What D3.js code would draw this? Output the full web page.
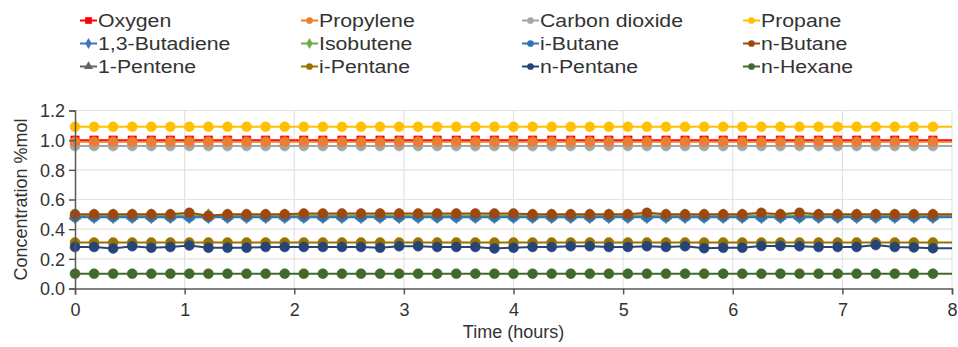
<!DOCTYPE html>
<html>
<head>
<meta charset="utf-8">
<script src="https://cdn.jsdelivr.net/npm/d3@7"></script>
<style>
  body { margin: 0; background: #fff; }
  svg { display: block; font-family: "Liberation Sans", Arial, sans-serif; }
</style>
</head>
<body>
<svg id="chart" width="958" height="347"></svg>
<script>
// sample times (hours)
const times = [0, 0.174, 0.348, 0.522, 0.696, 0.870, 1.043, 1.217, 1.391, 1.565, 1.739, 1.913,
  2.087, 2.261, 2.435, 2.609, 2.783, 2.957, 3.130, 3.304, 3.478, 3.652, 3.826, 4.000,
  4.174, 4.348, 4.522, 4.696, 4.870, 5.043, 5.217, 5.391, 5.565, 5.739, 5.913, 6.087,
  6.261, 6.435, 6.609, 6.783, 6.957, 7.130, 7.304, 7.478, 7.652, 7.826, 8.000];

const oxygen = [1.00, 1.00, 1.00, 1.00, 1.00, 1.00, 1.00, 1.00, 1.00, 1.00, 1.00, 1.00,
  1.00, 1.00, 1.00, 1.00, 1.00, 1.00, 1.00, 1.00, 1.00, 1.00, 1.00, 1.00,
  1.00, 1.00, 1.00, 1.00, 1.00, 1.00, 1.00, 1.00, 1.00, 1.00, 1.00, 1.00,
  1.00, 1.00, 1.00, 1.00, 1.00, 1.00, 1.00, 1.00, 1.00, 1.00, 1.00];
const propylene = [0.99, 0.99, 0.99, 0.99, 0.99, 0.99, 0.99, 0.99, 0.99, 0.99, 0.99, 0.99,
  0.99, 0.99, 0.99, 0.99, 0.99, 0.99, 0.99, 0.99, 0.99, 0.99, 0.99, 0.99,
  0.99, 0.99, 0.99, 0.99, 0.99, 0.99, 0.99, 0.99, 0.99, 0.99, 0.99, 0.99,
  0.99, 0.99, 0.99, 0.99, 0.99, 0.99, 0.99, 0.99, 0.99, 0.99, 0.99];
const carbonDioxide = [0.96, 0.96, 0.96, 0.96, 0.96, 0.96, 0.96, 0.96, 0.96, 0.96, 0.96, 0.96,
  0.96, 0.96, 0.96, 0.96, 0.96, 0.96, 0.96, 0.96, 0.96, 0.96, 0.96, 0.96,
  0.96, 0.96, 0.96, 0.96, 0.96, 0.96, 0.96, 0.96, 0.96, 0.96, 0.96, 0.96,
  0.96, 0.96, 0.96, 0.96, 0.96, 0.96, 0.96, 0.96, 0.96, 0.96, 0.96];
const propane = [1.09, 1.09, 1.09, 1.09, 1.09, 1.09, 1.09, 1.09, 1.09, 1.09, 1.09, 1.09,
  1.09, 1.09, 1.09, 1.09, 1.09, 1.09, 1.09, 1.09, 1.09, 1.09, 1.09, 1.09,
  1.09, 1.09, 1.09, 1.09, 1.09, 1.09, 1.09, 1.09, 1.09, 1.09, 1.09, 1.09,
  1.09, 1.09, 1.09, 1.09, 1.09, 1.09, 1.09, 1.09, 1.09, 1.09, 1.09];
const butadiene = [0.485, 0.485, 0.485, 0.485, 0.485, 0.485, 0.485, 0.485, 0.485, 0.485, 0.485, 0.485,
  0.485, 0.485, 0.485, 0.485, 0.485, 0.485, 0.485, 0.485, 0.485, 0.485, 0.485, 0.485,
  0.485, 0.485, 0.485, 0.485, 0.485, 0.485, 0.485, 0.485, 0.485, 0.485, 0.485, 0.485,
  0.485, 0.485, 0.485, 0.485, 0.485, 0.485, 0.485, 0.485, 0.485, 0.485, 0.485];
const isobutene = [0.49, 0.49, 0.49, 0.49, 0.49, 0.49, 0.49, 0.49, 0.49, 0.49, 0.49, 0.49,
  0.49, 0.49, 0.49, 0.49, 0.49, 0.49, 0.49, 0.49, 0.49, 0.49, 0.49, 0.49,
  0.49, 0.49, 0.49, 0.49, 0.49, 0.49, 0.49, 0.49, 0.49, 0.49, 0.49, 0.49,
  0.49, 0.49, 0.49, 0.49, 0.49, 0.49, 0.49, 0.49, 0.49, 0.49, 0.49];
const iButane = [0.48, 0.48, 0.48, 0.48, 0.48, 0.48, 0.48, 0.48, 0.48, 0.48, 0.48, 0.48,
  0.48, 0.48, 0.48, 0.48, 0.48, 0.48, 0.48, 0.48, 0.48, 0.48, 0.48, 0.48,
  0.48, 0.48, 0.48, 0.48, 0.48, 0.48, 0.48, 0.48, 0.48, 0.48, 0.48, 0.48,
  0.48, 0.48, 0.48, 0.48, 0.48, 0.48, 0.48, 0.48, 0.48, 0.48, 0.48];
const nButane = [0.50, 0.50, 0.50, 0.50, 0.50, 0.50, 0.51, 0.49, 0.50, 0.50, 0.50, 0.50,
  0.505, 0.505, 0.505, 0.505, 0.505, 0.505, 0.505, 0.505, 0.505, 0.505, 0.505, 0.505,
  0.50, 0.50, 0.50, 0.50, 0.50, 0.50, 0.51, 0.50, 0.50, 0.50, 0.50, 0.50,
  0.51, 0.50, 0.51, 0.50, 0.50, 0.50, 0.50, 0.50, 0.50, 0.50, 0.50];
const pentene1 = [0.49, 0.49, 0.49, 0.49, 0.49, 0.49, 0.49, 0.49, 0.49, 0.49, 0.49, 0.49,
  0.49, 0.49, 0.49, 0.49, 0.49, 0.49, 0.49, 0.49, 0.49, 0.49, 0.49, 0.49,
  0.49, 0.49, 0.49, 0.49, 0.49, 0.49, 0.49, 0.49, 0.49, 0.49, 0.49, 0.49,
  0.49, 0.49, 0.49, 0.49, 0.49, 0.49, 0.49, 0.49, 0.49, 0.49, 0.49];
const iPentane = [0.31, 0.31, 0.31, 0.31, 0.31, 0.31, 0.31, 0.31, 0.31, 0.31, 0.31, 0.31,
  0.31, 0.31, 0.31, 0.31, 0.31, 0.31, 0.31, 0.31, 0.31, 0.31, 0.31, 0.31,
  0.31, 0.31, 0.31, 0.31, 0.31, 0.31, 0.31, 0.31, 0.31, 0.31, 0.31, 0.31,
  0.31, 0.31, 0.31, 0.31, 0.31, 0.31, 0.31, 0.31, 0.31, 0.31, 0.31];
const nPentane = [0.28, 0.28, 0.27, 0.285, 0.275, 0.28, 0.29, 0.275, 0.275, 0.275, 0.28, 0.28,
  0.28, 0.28, 0.28, 0.28, 0.275, 0.285, 0.285, 0.28, 0.28, 0.28, 0.27, 0.275,
  0.28, 0.28, 0.285, 0.285, 0.28, 0.28, 0.285, 0.28, 0.285, 0.272, 0.275, 0.275,
  0.287, 0.287, 0.285, 0.28, 0.28, 0.28, 0.293, 0.28, 0.277, 0.272, 0.272];
const nHexane = [0.10, 0.10, 0.10, 0.10, 0.10, 0.10, 0.10, 0.10, 0.10, 0.10, 0.10, 0.10,
  0.10, 0.10, 0.10, 0.10, 0.10, 0.10, 0.10, 0.10, 0.10, 0.10, 0.10, 0.10,
  0.10, 0.10, 0.10, 0.10, 0.10, 0.10, 0.10, 0.10, 0.10, 0.10, 0.10, 0.10,
  0.10, 0.10, 0.10, 0.10, 0.10, 0.10, 0.10, 0.10, 0.10, 0.10, 0.10];

const xTicks = [0, 1, 2, 3, 4, 5, 6, 7, 8];
const yTicks = [0, 0.2, 0.4, 0.6, 0.8, 1.0, 1.2];

// legend order (row by row, 4 columns)
const series = [
  { name: "Oxygen", values: oxygen, color: "#ff0000", symbol: "square" },
  { name: "Propylene", values: propylene, color: "#ed7d31", symbol: "circle" },
  { name: "Carbon dioxide", values: carbonDioxide, color: "#a5a5a5", symbol: "circle" },
  { name: "Propane", values: propane, color: "#ffc000", symbol: "circle" },
  { name: "1,3-Butadiene", values: butadiene, color: "#4472c4", symbol: "diamond" },
  { name: "Isobutene", values: isobutene, color: "#70ad47", symbol: "diamond" },
  { name: "i-Butane", values: iButane, color: "#2e75b6", symbol: "circle" },
  { name: "n-Butane", values: nButane, color: "#9e480e", symbol: "circle" },
  { name: "1-Pentene", values: pentene1, color: "#636363", symbol: "triangle" },
  { name: "i-Pentane", values: iPentane, color: "#997300", symbol: "circle" },
  { name: "n-Pentane", values: nPentane, color: "#264478", symbol: "circle" },
  { name: "n-Hexane", values: nHexane, color: "#43682b", symbol: "circle" }
];
// which ones get painted last (on top)
const drawOrder = ["1-Pentene", "1,3-Butadiene", "Isobutene", "i-Butane", "n-Butane",
  "Carbon dioxide", "Oxygen", "Propylene", "Propane", "i-Pentane", "n-Pentane", "n-Hexane"];

const svg = d3.select("#chart");
const plotLeft = 75, plotRight = 952, plotTop = 110.5, plotBottom = 288.5;
const textColor = "#333333";

const x = d3.scaleLinear().domain([0, 8]).range([plotLeft, plotRight]);
const y = d3.scaleLinear().domain([0, 1.2]).range([plotBottom, plotTop]);

const symbolTypes = { circle: d3.symbolCircle, square: d3.symbolSquare, diamond: d3.symbolDiamond, triangle: d3.symbolTriangle };

// gridlines
svg.append("g")
  .selectAll("line")
  .data(yTicks.filter(d => d > 0))
  .enter().append("line")
  .attr("x1", plotLeft).attr("x2", plotRight)
  .attr("y1", d => y(d)).attr("y2", d => y(d))
  .attr("stroke", "#e3e3e3").attr("stroke-width", 1.2);
svg.append("g")
  .selectAll("line")
  .data(xTicks.filter(d => d > 0))
  .enter().append("line")
  .attr("x1", d => x(d)).attr("x2", d => x(d))
  .attr("y1", plotTop).attr("y2", plotBottom)
  .attr("stroke", "#e3e3e3").attr("stroke-width", 1.2);

// series
const line = d3.line().x((d, i) => x(times[i])).y(d => y(d));
const ordered = drawOrder.map(n => series.find(s => s.name == n));

ordered.forEach(s => {
  const g = svg.append("g");
  g.append("path")
    .datum(s.values)
    .attr("d", line)
    .attr("fill", "none")
    .attr("stroke", s.color)
    .attr("stroke-width", 2);
  const size = s.symbol == "circle" ? 78 : (s.symbol == "square" ? 72 : 60);
  g.selectAll("path.m")
    .data(s.values.slice(0, s.values.length - 1))
    .enter().append("path")
    .attr("class", "m")
    .attr("transform", (d, i) => "translate(" + x(times[i]) + "," + y(d) + ")")
    .attr("d", d3.symbol().type(symbolTypes[s.symbol]).size(size))
    .attr("fill", s.color)
    .attr("stroke", s.color)
    .attr("stroke-opacity", 0.5)
    .attr("stroke-width", 1);
});

// axes
const xAxis = svg.append("g")
  .attr("transform", "translate(0," + plotBottom + ")")
  .call(d3.axisBottom(x).tickValues(xTicks).tickSize(6).tickFormat(d3.format("d")));
const yAxis = svg.append("g")
  .attr("transform", "translate(" + plotLeft + ",0)")
  .call(d3.axisLeft(y).tickValues(yTicks).tickSize(6).tickFormat(d3.format(".1f")));

[xAxis, yAxis].forEach(a => {
  a.select(".domain").attr("stroke", "#595959").attr("stroke-width", 1.5);
  a.selectAll(".tick line").attr("stroke", "#595959").attr("stroke-width", 1.5);
  a.selectAll(".tick text").attr("fill", textColor).attr("font-size", 18)
    .attr("font-family", "'Liberation Sans', Arial, sans-serif");
});
xAxis.selectAll(".tick text").attr("dy", "1em");
yAxis.selectAll(".tick text").attr("x", -10).attr("dy", "0.36em");

// axis titles
svg.append("text")
  .attr("x", (plotLeft + plotRight) / 2).attr("y", 338)
  .attr("text-anchor", "middle")
  .attr("font-size", 18)
  .attr("fill", textColor)
  .text("Time (hours)");
svg.append("text")
  .attr("transform", "translate(27," + ((plotTop + plotBottom) / 2) + ") rotate(-90)")
  .attr("text-anchor", "middle")
  .attr("font-size", 18)
  .attr("fill", textColor)
  .text("Concentration %mol");

// legend
const legend = svg.append("g");
series.forEach((s, i) => {
  const col = i % 4, row = Math.floor(i / 4);
  const gx = 80 + col * 221, gy = 20.5 + row * 23;
  const item = legend.append("g").attr("transform", "translate(" + gx + "," + gy + ")");
  item.append("line")
    .attr("x1", 0).attr("x2", 17).attr("y1", 0).attr("y2", 0)
    .attr("stroke", s.color).attr("stroke-width", 2);
  item.append("path")
    .attr("transform", "translate(8.5,0)")
    .attr("d", d3.symbol().type(symbolTypes[s.symbol]).size(s.symbol == "square" ? 45 : 35))
    .attr("fill", s.color);
  item.append("text")
    .attr("transform", "translate(18,0) scale(1.15,1)")
    .attr("dy", "0.36em")
    .attr("font-size", 18.5)
    .attr("fill", textColor)
    .text(s.name);
});
</script>
</body>
</html>
